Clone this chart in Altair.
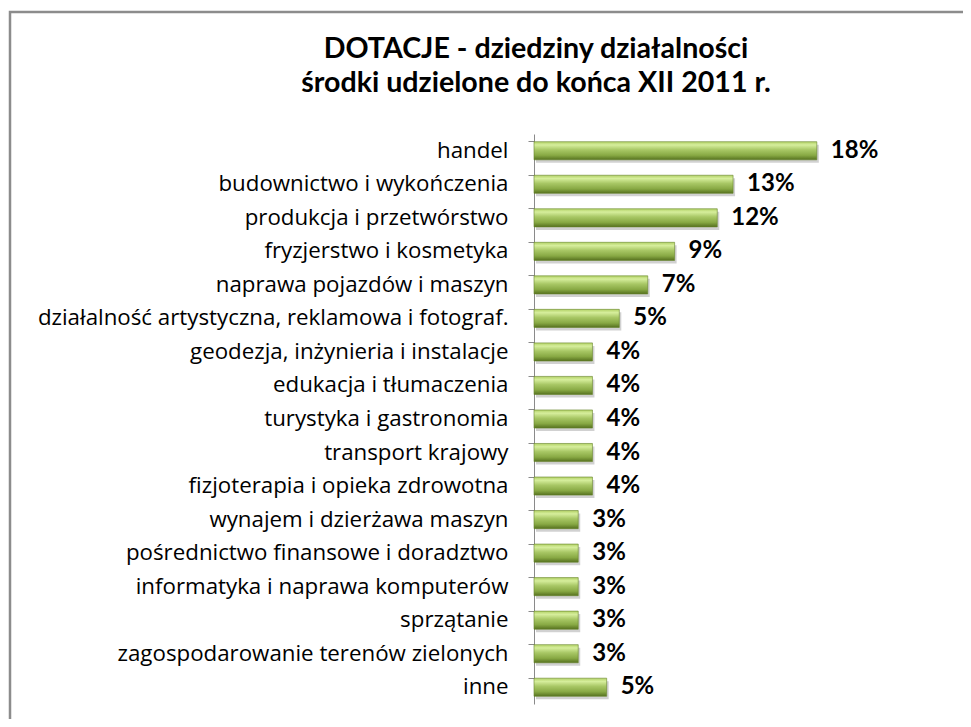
import altair as alt
import pandas as pd

categories = [
    "handel",
    "budownictwo i wykończenia",
    "produkcja i przetwórstwo",
    "fryzjerstwo i kosmetyka",
    "naprawa pojazdów i maszyn",
    "działalność artystyczna, reklamowa i fotograf.",
    "geodezja, inżynieria i instalacje",
    "edukacja i tłumaczenia",
    "turystyka i gastronomia",
    "transport krajowy",
    "fizjoterapia i opieka zdrowotna",
    "wynajem i dzierżawa maszyn",
    "pośrednictwo finansowe i doradztwo",
    "informatyka i naprawa komputerów",
    "sprzątanie",
    "zagospodarowanie terenów zielonych",
    "inne",
]
shares = [0.179, 0.126, 0.116, 0.089, 0.072, 0.054, 0.037, 0.037, 0.037,
          0.037, 0.037, 0.028, 0.028, 0.028, 0.028, 0.028, 0.046]

title_lines = ["DOTACJE - dziedziny działalności", "środki udzielone do końca XII 2011 r."]

df = pd.DataFrame({"kategoria": categories, "udzial": shares})

LABEL_FONT = "Open Sans"
BOLD_FONT = "Lato"

y_enc = alt.Y(
    "kategoria:N",
    sort=categories,
    title=None,
    scale=alt.Scale(paddingInner=0.46, paddingOuter=0.23),
    axis=alt.Axis(
        bandPosition=0,
        tickSize=6,
        tickColor="#8a8a8a",
        domainColor="#8a8a8a",
        labelPadding=20,
        labelFont=LABEL_FONT,
        labelFontSize=22.3,
        labelColor="#000000",
        labelLimit=600,
        grid=False,
    ),
)
x_enc = alt.X("udzial:Q", axis=None, scale=alt.Scale(domain=[0, 0.2], nice=False))

base = alt.Chart(df)

shadow = base.mark_bar(color="#000000", opacity=0.18, yOffset=3, xOffset=2).encode(x=x_enc, y=y_enc)

bars = base.mark_bar(
    color=alt.Gradient(
        gradient="linear",
        x1=0, y1=0, x2=0, y2=1,
        stops=[
            alt.GradientStop(color="#b2d166", offset=0),
            alt.GradientStop(color="#d6ee9c", offset=0.18),
            alt.GradientStop(color="#a8c765", offset=0.45),
            alt.GradientStop(color="#88a944", offset=0.75),
            alt.GradientStop(color="#56711f", offset=1),
        ],
    ),
    stroke="#66852a",
    strokeWidth=0.6,
).encode(x=x_enc, y=y_enc)

labels = base.mark_text(
    align="left", baseline="middle", dx=14, font=BOLD_FONT, fontSize=24,
    fontWeight="bold", color="#000000",
).encode(x=x_enc, y=y_enc, text=alt.Text("udzial:Q", format=".0%"))

one = pd.DataFrame({"f": [0]})

frame = alt.Chart(one).mark_rect(
    fill=None, stroke="#8c8c8c", strokeWidth=2.5
).encode(
    x=alt.value(-524), x2=alt.value(700), y=alt.value(-122), y2=alt.value(800)
)

title1 = alt.Chart(one).mark_text(
    align="center", baseline="alphabetic", font=BOLD_FONT, fontSize=28.6,
    fontWeight="bold", color="#000000",
).encode(x=alt.value(2), y=alt.value(-76), text=alt.value(title_lines[0]))

title2 = alt.Chart(one).mark_text(
    align="center", baseline="alphabetic", font=BOLD_FONT, fontSize=28.6,
    fontWeight="bold", color="#000000",
).encode(x=alt.value(2), y=alt.value(-42), text=alt.value(title_lines[1]))

chart = alt.layer(frame, title1, title2, shadow, bars, labels).properties(
    width=316,
    height=570,
    padding={"left": 526, "top": 126, "right": 113, "bottom": 15},
    autosize=alt.AutoSizeParams(type="none"),
).configure_view(stroke=None)

chart.save("out.html", embed_options={"renderer": "svg", "actions": False})
